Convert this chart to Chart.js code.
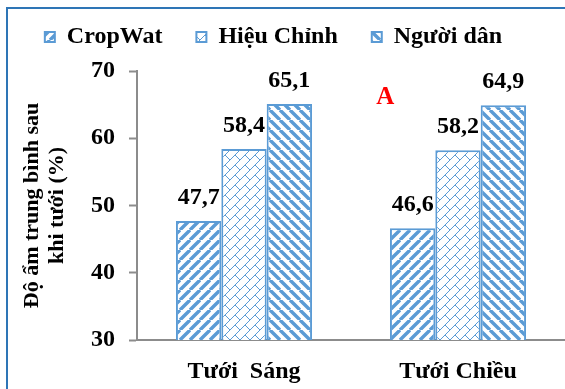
<!DOCTYPE html>
<html>
<head>
<meta charset="utf-8">
<script src="https://cdn.jsdelivr.net/npm/chart.js@4.4.1/dist/chart.umd.min.js"></script>
<style>
  html, body { margin: 0; padding: 0; background: #fff; overflow: hidden; }
  #wrap { position: relative; width: 565px; height: 389px; overflow: hidden; }
  .line { position: absolute; background: #2e75b6; }
  #frameLeft { left: 6px; top: 7px; width: 2px; height: 382px; }
  #frameTop { left: 6px; top: 7px; width: 559px; height: 2px; }
  canvas { position: absolute; left: 0; top: 0; }
</style>
</head>
<body>
<div id="wrap">
  <div class="line" id="frameLeft"></div>
  <div class="line" id="frameTop"></div>
  <canvas id="doAmChart" width="565" height="389"></canvas>
</div>
<script>
// --- Data ---
const categories = ['Tưới  Sáng', 'Tưới Chiều'];
const seriesNames = ['CropWat', 'Hiệu Chỉnh', 'Người dân'];
const cropWat = [47.7, 46.6];
const hieuChinh = [58.4, 58.2];
const nguoiDan = [65.1, 64.9];
const yTicks = [30, 40, 50, 60, 70];

const BLUE = '#5b9bd5';
const AXIS = '#8c8c8c';
const FONT = "'Liberation Serif', 'Times New Roman', serif";

// pattern kẻ sọc
function stripePattern(dir) {
    const s = 10;
    const c = document.createElement('canvas');
    c.width = s; c.height = s;
    const g = c.getContext('2d');
    g.fillStyle = '#fff';
    g.fillRect(0, 0, s, s);
    g.strokeStyle = BLUE;
    g.lineWidth = 3.4;
    g.beginPath();
    for (let k = -1; k <= 1; k++) {
        if (dir === '/') {
            g.moveTo(k * s, s); g.lineTo(k * s + s, 0);
        } else {
            g.moveTo(k * s, 0); g.lineTo(k * s + s, s);
        }
    }
    g.stroke();
    return g.createPattern(c, 'repeat');
}

// pattern gạch chéo (diagonal brick)
function brickPattern() {
    const s = 10;
    const c = document.createElement('canvas');
    c.width = s; c.height = s;
    const g = c.getContext('2d');
    g.fillStyle = '#fff';
    g.fillRect(0, 0, s, s);
    g.strokeStyle = BLUE;
    g.lineWidth = 1;
    g.beginPath();
    for (let k = -1; k <= 1; k++) {
        g.moveTo(k * s, s); g.lineTo(k * s + s, 0);
    }
    g.moveTo(s / 2, s / 2); g.lineTo(s, s);
    g.moveTo(s / 2 - s, s / 2); g.lineTo(0, s);
    g.stroke();
    return g.createPattern(c, 'repeat');
}

const fills = [stripePattern('/'), brickPattern(), stripePattern('\\')];
const values = [cropWat, hieuChinh, nguoiDan];

// nhãn giá trị trên cột + chữ "A"
const valueLabels = {
    id: 'valueLabels',
    afterDatasetsDraw(chart) {
        const ctx = chart.ctx;
        ctx.save();
        ctx.fillStyle = '#000';
        ctx.font = `bold 24px ${FONT}`;
        ctx.textAlign = 'center';
        ctx.textBaseline = 'alphabetic';
        chart.data.datasets.forEach((ds, i) => {
            chart.getDatasetMeta(i).data.forEach((bar, j) => {
                ctx.fillText(ds.data[j].toFixed(1).replace('.', ','), bar.x, bar.y - 17);
            });
        });
        const area = chart.chartArea;
        ctx.fillStyle = '#ff0000';
        ctx.font = `bold 25px ${FONT}`;
        ctx.textBaseline = 'middle';
        ctx.fillText('A', area.left + (area.right - area.left) * 0.58, chart.scales.y.getPixelForValue(66.1));
        ctx.restore();
    }
};

// giữ chiều cao legend cố định
const legendHeight = {
    id: 'legendHeight',
    beforeInit(chart) {
        const fit = chart.legend.fit;
        chart.legend.fit = function () {
            fit.bind(chart.legend)();
            this.height = 80;
        };
    }
};

new Chart(document.getElementById('doAmChart'), {
    type: 'bar',
    data: {
        labels: categories,
        datasets: seriesNames.map((name, i) => ({
            label: name,
            data: values[i],
            backgroundColor: fills[i],
            borderColor: BLUE,
            borderWidth: 2,
            categoryPercentage: 0.636,
            barPercentage: 1.0
        }))
    },
    options: {
        responsive: false,
        animation: false,
        devicePixelRatio: 1,
        layout: { padding: { top: -9, left: -18, right: 0, bottom: 0 } },
        plugins: {
            legend: {
                display: true,
                position: 'top',
                labels: {
                    boxWidth: 10,
                    boxHeight: 10,
                    padding: 34,
                    color: '#000',
                    font: { family: FONT, size: 24, weight: 'bold' }
                }
            },
            tooltip: { enabled: false }
        },
        scales: {
            x: {
                grid: { display: false },
                border: { display: true, color: AXIS, width: 2 },
                ticks: {
                    color: '#000',
                    padding: 9,
                    font: { family: FONT, size: 24, weight: 'bold' }
                },
                afterFit(scale) { scale.height = 49; }
            },
            y: {
                min: 30,
                max: 70,
                afterBuildTicks(scale) { scale.ticks = yTicks.map(v => ({ value: v })); },
                grid: {
                    display: true,
                    drawOnChartArea: false,
                    drawTicks: true,
                    tickLength: 8,
                    tickColor: AXIS,
                    tickWidth: 2
                },
                border: { display: true, color: AXIS, width: 2 },
                ticks: {
                    color: '#000',
                    padding: 14,
                    font: { family: FONT, size: 24, weight: 'bold' }
                },
                title: {
                    display: true,
                    text: ['Độ ẩm trung bình sau', 'khi tưới (%)'],
                    color: '#000',
                    padding: { top: 38, bottom: 0 },
                    font: { family: FONT, size: 22, weight: 'bold', lineHeight: 1.14 }
                },
                afterFit(scale) { scale.width = 155; }
            }
        }
    },
    plugins: [valueLabels, legendHeight]
});
</script>
</body>
</html>
